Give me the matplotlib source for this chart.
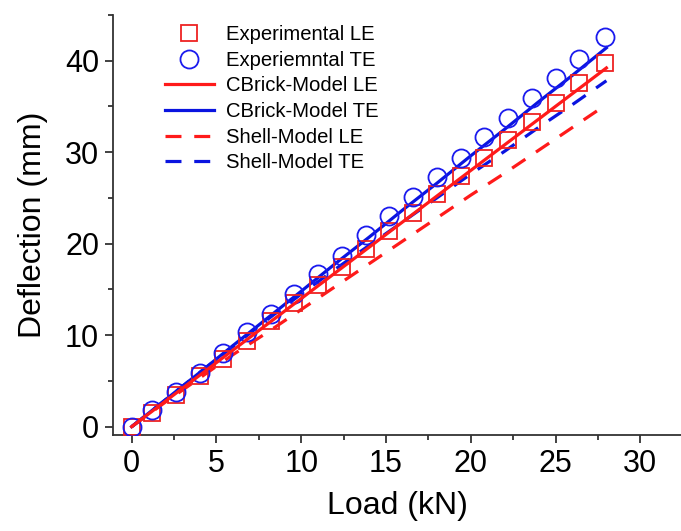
import numpy as np
import matplotlib.pyplot as plt

plt.rcParams['font.family'] = ['Liberation Sans', 'DejaVu Sans']

# Experimental data (load in kN, deflection in mm)
load_exp = [0, 1.2, 2.6, 4.0, 5.4, 6.8, 8.2, 9.6, 11.0, 12.4, 13.8,
            15.2, 16.6, 18.0, 19.4, 20.8, 22.2, 23.6, 25.0, 26.4, 27.9]
exp_le = [0, 1.5, 3.5, 5.5, 7.4, 9.4, 11.5, 13.5, 15.5, 17.4, 19.4,
          21.4, 23.4, 25.4, 27.4, 29.4, 31.3, 33.3, 35.4, 37.5, 39.7]
exp_te = [0, 1.8, 3.8, 5.9, 8.0, 10.3, 12.3, 14.5, 16.7, 18.7, 20.9,
          23.0, 25.1, 27.3, 29.4, 31.6, 33.7, 35.9, 38.1, 40.2, 42.6]

# Model curves
load_mod = [0, 2, 4, 6, 8, 10, 12, 14, 16, 18, 20, 22, 24, 26, 28]
cbrick_le = [0, 2.8, 5.6, 8.4, 11.2, 14.0, 16.8, 19.6, 22.4, 25.2, 28.0,
             30.8, 33.6, 36.4, 39.2]
cbrick_te = [0, 2.95, 5.9, 8.9, 11.85, 14.8, 17.8, 20.7, 23.7, 26.6, 29.6,
             32.5, 35.5, 38.4, 41.4]
shell_le = [0, 2.7, 5.3, 7.9, 10.3, 12.8, 15.3, 17.8, 20.3, 22.8, 25.3,
            27.7, 30.2, 32.7, 35.2]
shell_te = [0, 2.95, 5.9, 8.8, 11.7, 14.5, 17.2, 19.8, 22.4, 25.0, 27.6,
            30.1, 32.7, 35.2, 37.8]

fig = plt.figure(figsize=(6.81, 5.31), dpi=100)
ax = fig.add_axes([0.166, 0.181, 0.834, 0.791])

ax.plot(load_exp, exp_le, 's', ms=11, mfc='none', mec='#ee2222', mew=1.3,
        label='Experimental LE', zorder=3)
ax.plot(load_exp, exp_te, 'o', ms=13, mfc='none', mec='#1a1aee', mew=1.3,
        label='Experiemntal TE', zorder=3)
ax.plot(load_mod, cbrick_le, '-', color='#ff1a1a', lw=2.3, label='CBrick-Model LE', zorder=4)
ax.plot(load_mod, cbrick_te, '-', color='#0a14e0', lw=2.3, label='CBrick-Model TE', zorder=2)
ax.plot(load_mod, shell_le, '--', color='#ff1a1a', lw=2.3, dashes=(5, 4),
        label='Shell-Model LE', zorder=2)
ax.plot(load_mod, shell_te, '--', color='#0a14e0', lw=2.3, dashes=(5, 4),
        label='Shell-Model TE', zorder=2)

ax.set_xlim(-1.1, 32.4)
ax.set_ylim(-0.9, 45)
ax.set_xticks([0, 5, 10, 15, 20, 25, 30])
ax.set_xticks(np.arange(2.5, 32.5, 5), minor=True)
ax.set_yticks([0, 10, 20, 30, 40])
ax.set_yticks([5, 15, 25, 35, 45], minor=True)

for s in ['top', 'right']:
    ax.spines[s].set_visible(False)
for s in ['left', 'bottom']:
    ax.spines[s].set_linewidth(1.3)
    ax.spines[s].set_color('#333333')

ax.tick_params(which='major', direction='out', length=6, width=1.3,
               labelsize=22, color='#333333', pad=4)
ax.tick_params(which='minor', direction='out', length=3.5, width=1.3, color='#333333')

ax.set_xlabel('Load (kN)', fontsize=23, labelpad=9)
ax.set_ylabel('Deflection (mm)', fontsize=23, labelpad=12)

ax.legend(loc='upper left', bbox_to_anchor=(0.07, 1.005), frameon=False,
          fontsize=14.6, handlelength=2.4, labelspacing=0.33, handletextpad=0.6,
          borderaxespad=0.2)

fig.savefig('out.png', dpi=100)
